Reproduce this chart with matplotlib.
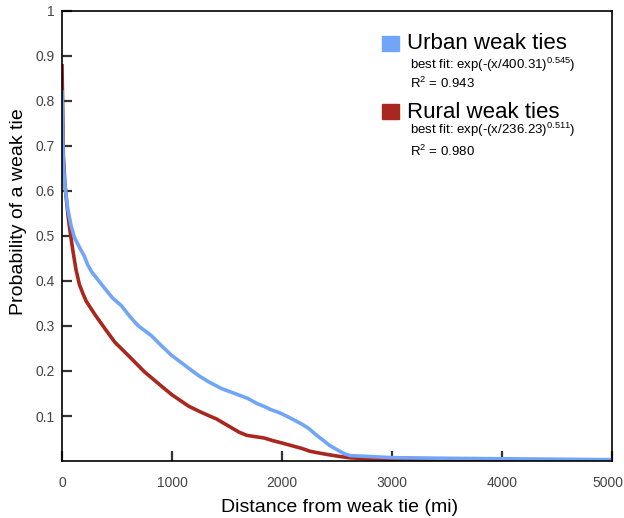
import matplotlib
matplotlib.use('agg')
import matplotlib.pyplot as plt
from matplotlib.patches import Rectangle
from matplotlib.transforms import ScaledTranslation

plt.rcParams['font.family'] = ['Liberation Sans', 'DejaVu Sans']
plt.rcParams['mathtext.fontset'] = 'custom'
plt.rcParams['mathtext.rm'] = 'Liberation Sans'
plt.rcParams['mathtext.default'] = 'regular'

# Data
urban_x = [0, 6, 12, 20, 30, 52, 82, 112, 158, 203, 233, 270, 309, 370, 460, 540, 610,
           690, 750, 810, 900, 995, 1120, 1240, 1340, 1450, 1570, 1690, 1770, 1840, 1900,
           1970, 2040, 2110, 2180, 2245, 2310, 2380, 2430, 2480, 2530, 2570, 2620, 3000,
           3500, 4000, 4500, 5000]
urban_y = [0.82, 0.73, 0.66, 0.63, 0.605, 0.56, 0.523, 0.497, 0.475, 0.455, 0.436, 0.42,
           0.408, 0.389, 0.362, 0.345, 0.323, 0.301, 0.29, 0.279, 0.257, 0.235, 0.212,
           0.19, 0.175, 0.161, 0.15, 0.139, 0.128, 0.121, 0.114, 0.108, 0.1, 0.091, 0.082,
           0.072, 0.058, 0.045, 0.035, 0.028, 0.021, 0.016, 0.012, 0.0075, 0.006, 0.005,
           0.004, 0.003]

rural_x = [0, 5, 12, 25, 40, 55, 75, 97, 127, 158, 190, 220, 260, 300, 390, 480, 600,
           750, 930, 1000, 1150, 1250, 1360, 1400, 1470, 1540, 1610, 1680, 1760, 1840,
           1920, 2000, 2090, 2180, 2250, 2310, 2400, 2500, 2620, 2800, 3000, 3500, 4000,
           4500, 5000]
rural_y = [0.878, 0.8, 0.68, 0.62, 0.58, 0.545, 0.507, 0.47, 0.425, 0.392, 0.372, 0.355,
           0.34, 0.325, 0.294, 0.264, 0.235, 0.198, 0.161, 0.147, 0.122, 0.11, 0.098,
           0.094, 0.084, 0.074, 0.064, 0.057, 0.054, 0.051, 0.045, 0.04, 0.034, 0.028,
           0.022, 0.019, 0.015, 0.011, 0.007, 0.005, 0.004, 0.003, 0.003, 0.002, 0.001]

series = [
    ('Urban weak ties', r'best fit: exp(-(x/400.31)$^{0.545}$)', r'R$^{2}$ = 0.943', '#70a5f8'),
    ('Rural weak ties', r'best fit: exp(-(x/236.23)$^{0.511}$)', r'R$^{2}$ = 0.980', '#a8271f'),
]

fig = plt.figure(figsize=(6.24, 5.18), dpi=100)
ax = fig.add_axes([0.0994, 0.110, 0.8814, 0.869])

ax.plot(rural_x, rural_y, color=series[1][3], lw=2.6, solid_joinstyle='round')
ax.plot(urban_x, urban_y, color=series[0][3], lw=2.6, solid_joinstyle='round')

ax.set_xlim(0, 5000)
ax.set_ylim(0, 1)
ax.set_xticks([0, 1000, 2000, 3000, 4000, 5000])
ax.set_yticks([0.1, 0.2, 0.3, 0.4, 0.5, 0.6, 0.7, 0.8, 0.9, 1.0])
ax.set_yticklabels(['0.1', '0.2', '0.3', '0.4', '0.5', '0.6', '0.7', '0.8', '0.9', '1'])
ax.tick_params(direction='in', length=7, width=1.6, color='#333333',
               labelsize=10, labelcolor='#444444', pad=5)
ax.tick_params(axis='x', pad=11)
for s in ax.spines.values():
    s.set_linewidth(1.2)

# last x label sits at the figure edge, nudge it in a little
last = ax.get_xticklabels()[-1]
last.set_transform(last.get_transform() + ScaledTranslation(-4 / 100, 0, fig.dpi_scale_trans))

ax.set_xlabel('Distance from weak tie (mi)', fontsize=14)
ax.set_ylabel('Probability of a weak tie', fontsize=14)
ax.xaxis.set_label_coords(0.504, -0.103)
ax.yaxis.set_label_coords(-0.08, 0.555)
ax.xaxis.label.set_va('center')
ax.yaxis.label.set_va('center')

# legend block
ys = [(0.927, 0.879, 0.839), (0.775, 0.735, 0.688)]
for (name, fit, r2, col), (y0, y1, y2) in zip(series, ys):
    ax.add_patch(Rectangle((0.582, y0 - 0.016), 0.03, 0.034, transform=ax.transAxes,
                           color=col, clip_on=False))
    ax.text(0.627, y0, name, transform=ax.transAxes, fontsize=16, va='center')
    ax.text(0.633, y1, fit, transform=ax.transAxes, fontsize=9.5, va='center')
    ax.text(0.633, y2, r2, transform=ax.transAxes, fontsize=9.5, va='center')

fig.savefig('out.png', dpi=100)
